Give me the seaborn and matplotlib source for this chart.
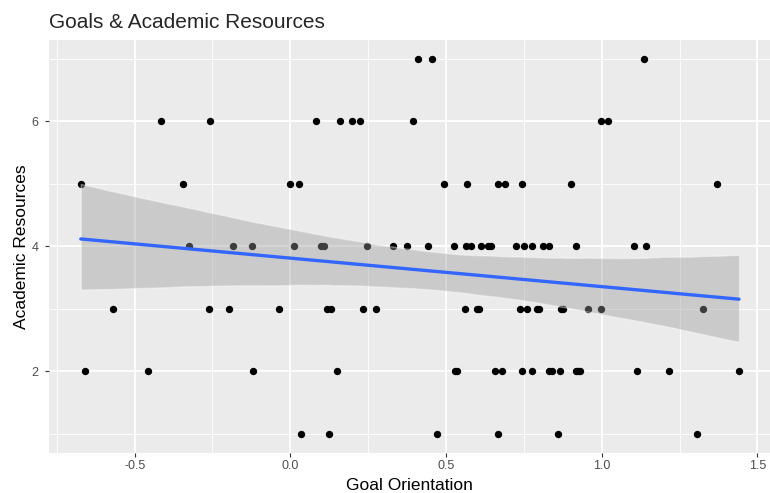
import seaborn as sns
import pandas as pd
import matplotlib.pyplot as plt

# goal orientation scores, grouped by their academic resources score
goal_res7 = [0.409, 0.455, 1.135]
goal_res6 = [-0.414, -0.258, 0.083, 0.160, 0.199, 0.225, 0.394, 0.997, 1.021]
goal_res5 = [-0.673, -0.345, -0.001, 0.027, 0.494, 0.567, 0.667, 0.691, 0.744,
             0.902, 1.370]
goal_res4 = [-0.325, -0.184, -0.124, 0.012, 0.099, 0.107, 0.245, 0.330, 0.376,
             0.443, 0.527, 0.563, 0.580, 0.613, 0.635, 0.646, 0.724, 0.751,
             0.777, 0.810, 0.832, 0.916, 1.104, 1.141]
goal_res3 = [-0.568, -0.260, -0.198, -0.036, 0.117, 0.130, 0.234, 0.276, 0.560,
             0.598, 0.606, 0.738, 0.759, 0.793, 0.800, 0.870, 0.877, 0.955,
             0.999, 1.325]
goal_res2 = [-0.658, -0.457, -0.119, 0.149, 0.529, 0.534, 0.657, 0.680, 0.744,
             0.777, 0.832, 0.840, 0.866, 0.917, 0.924, 0.930, 1.112, 1.217,
             1.441]
goal_res1 = [0.034, 0.123, 0.471, 0.668, 0.860, 1.305]

x_ticks = [-0.5, 0.0, 0.5, 1.0, 1.5]
x_labels = ['-0.5', '0.0', '0.5', '1.0', '1.5']
x_minor = [-0.75, -0.25, 0.25, 0.75, 1.25]
y_ticks = [2, 4, 6]
y_labels = ['2', '4', '6']
y_minor = [1, 3, 5, 7]

groups = {7: goal_res7, 6: goal_res6, 5: goal_res5, 4: goal_res4,
          3: goal_res3, 2: goal_res2, 1: goal_res1}
rows = [(g, r) for r, gs in groups.items() for g in gs]
df = pd.DataFrame(rows, columns=['goal', 'resources'])

sns.set_style('darkgrid', {'axes.facecolor': '#EBEBEB', 'grid.color': 'white'})
plt.rcParams['font.family'] = ['Liberation Sans', 'DejaVu Sans']

fig = plt.figure(figsize=(7.7, 4.93), dpi=100)
ax = fig.add_axes([48.7 / 770, 40.3 / 493, 721.3 / 770, 412.7 / 493])

sns.scatterplot(data=df, x='goal', y='resources', color='black', s=28,
                linewidth=0, ax=ax)
sns.regplot(data=df, x='goal', y='resources', scatter=False, ci=95,
            n_boot=2000, seed=3, truncate=True,
            line_kws={'color': '#3366FF', 'linewidth': 2.4}, ax=ax)
# ggplot-style grey ribbon instead of the tinted one
band = ax.collections[-1]
band.set_facecolor('#999999')
band.set_alpha(0.4)

ax.set_xlim(-0.776, 1.5405)
ax.set_ylim(0.7, 7.3)
ax.set_xticks(x_ticks)
ax.set_xticklabels(x_labels)
ax.set_yticks(y_ticks)
ax.set_yticklabels(y_labels)
ax.set_xticks(x_minor, minor=True)
ax.set_yticks(y_minor, minor=True)
ax.grid(which='major', color='white', linewidth=1.3)
ax.grid(which='minor', color='white', linewidth=0.6)
ax.set_axisbelow(True)
for s in ax.spines.values():
    s.set_visible(False)

ax.tick_params(which='major', length=3, width=0.8, color='#333333',
               labelcolor='#4D4D4D', labelsize=9, bottom=True, left=True)
ax.tick_params(axis='x', pad=2.5)
ax.tick_params(axis='y', pad=4.5)
ax.tick_params(which='minor', length=0)

ax.set_xlabel('Goal Orientation', fontsize=12.5, color='black')
ax.set_ylabel('Academic Resources', fontsize=12.5, color='black')
ax.xaxis.set_label_coords(0.5, (452.7 - 477.5) / 412.7)
ax.yaxis.set_label_coords((29.5 - 48.7) / 721.3, 0.5)
ax.set_title('Goals & Academic Resources', loc='left', fontsize=15, pad=9)

fig.savefig('out.png', dpi=100)
